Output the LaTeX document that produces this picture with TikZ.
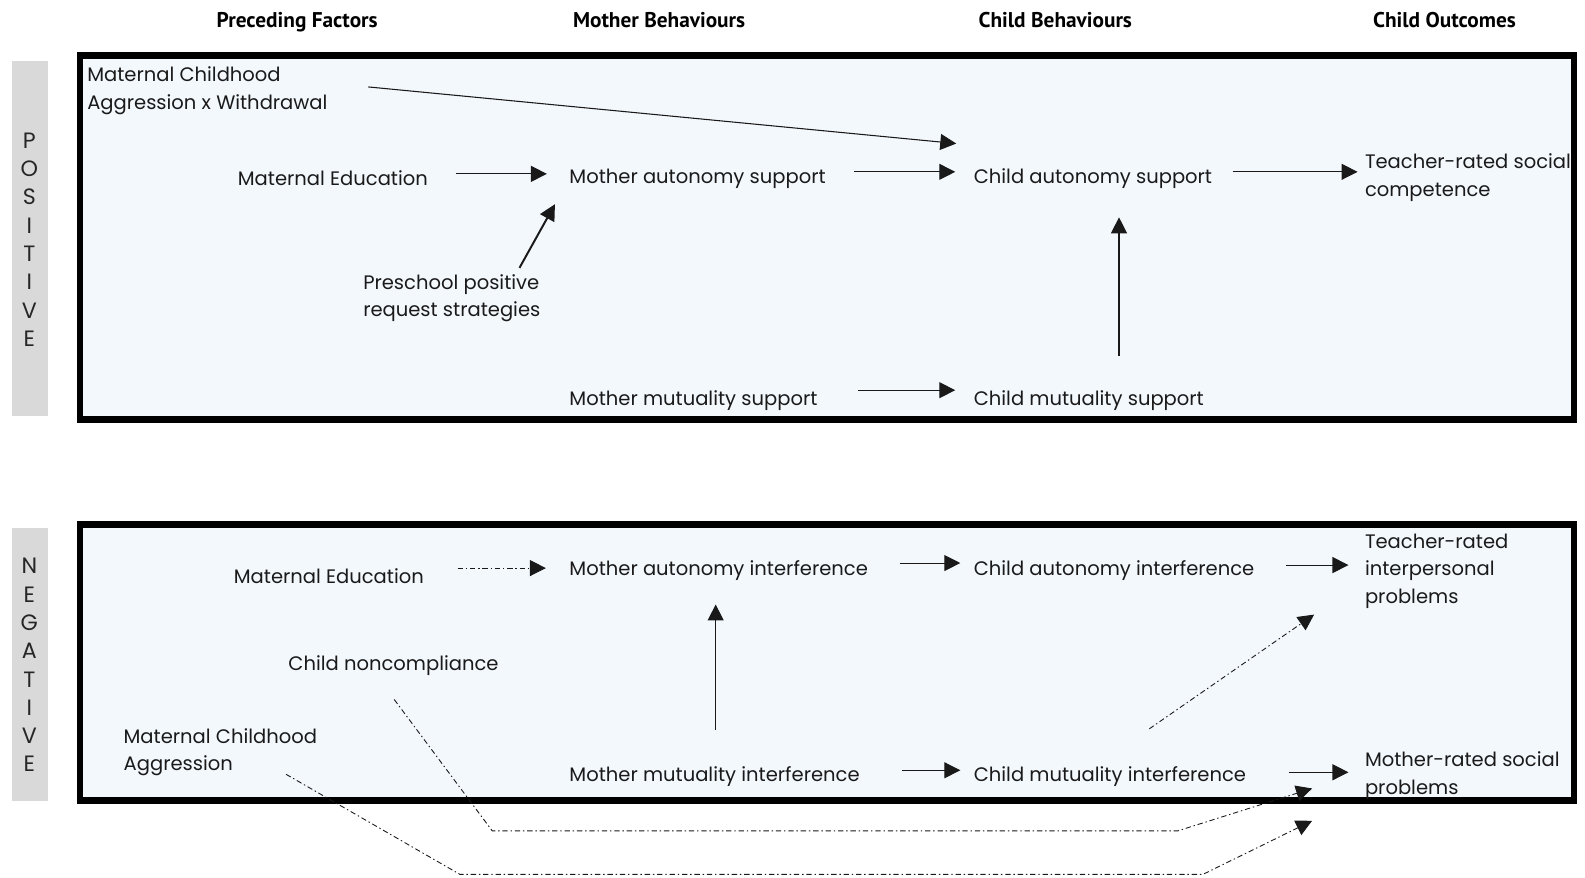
\documentclass[tikz,border=0pt]{standalone}
\usepackage{fontspec}
\setmainfont{Poppins}
\newfontfamily\headfont{PT Sans}
\usetikzlibrary{arrows.meta}
\usepackage{xcolor}
\definecolor{panelblue}{HTML}{F3F8FD}
\definecolor{sidegrey}{HTML}{D9D9D9}
\definecolor{inkgrey}{HTML}{1A1A1A}

\tikzset{
  lbl/.style={anchor=west, inner sep=0pt, align=left, text=inkgrey,
    font=\fontsize{11}{15.6}\selectfont},
  head/.style={anchor=base, inner sep=0pt, font=\headfont\bfseries\fontsize{12}{14}\selectfont},
  sidech/.style={inner sep=0pt, text=black!85, font=\fontsize{12.5}{14}\selectfont},
  arr/.style={-{Triangle[length=9pt,width=9pt]}, line width=0.6pt, black!90},
  dashdot/.style={arr, line width=0.5pt, dash pattern=on 3pt off 1.6pt on 0.8pt off 1.6pt},
  frame/.style={draw=black, line width=3.6pt, fill=panelblue},
}

\begin{document}
\begin{tikzpicture}[x=0.02cm, y=-0.02cm]
        \useasboundingbox (0,0) rectangle (1568,868);

        % Column headers
        \node[head] (hpre) at (294,27) {Preceding Factors};
        \node[head] (hmot) at (652,27) {Mother Behaviours};
        \node[head] (hchi) at (1044,27) {Child Behaviours};
        \node[head] (hout) at (1429,27) {Child Outcomes};

        % Panels
        \draw[frame] (79,55) rectangle (1557,415);
        \draw[frame] (79,519) rectangle (1557,792);

        % Side bars
        \fill[sidegrey] (12,60) rectangle (47,412);
        \fill[sidegrey] (12,522) rectangle (47,792);
        \foreach \l [count=\i] in {P,O,S,I,T,I,V,E}
            \node[sidech] (pos\i) at (29,{111+28*\i}) {\l};
        \foreach \l [count=\i] in {N,E,G,A,T,I,V,E}
            \node[sidech] (neg\i) at (29,{532+28*\i}) {\l};

        % Positive panel
        \node[lbl] (mcaw) at (86,90) {Maternal Childhood\\Aggression x Withdrawal};
        \node[lbl] (me) at (235,176) {Maternal Education};
        \node[lbl] (mas) at (563,177) {Mother autonomy support};
        \node[lbl] (cas) at (963,177) {Child autonomy support};
        \node[lbl] (trsc) at (1350,176) {Teacher-rated social\\competence};
        \node[lbl] (pprs) at (359,295) {Preschool positive\\request strategies};
        \node[lbl] (mms) at (563,396) {Mother mutuality support};
        \node[lbl] (cms) at (963,396) {Child mutuality support};

        \draw[arr] ([shift={(40,-4)}]mcaw.east) -- ([shift={(-17,-35)}]cas.west);
        \draw[arr] ([shift={(27,-4)}]me.east) -- ([shift={(-22,-5)}]mas.west);
        \draw[arr] ([shift={(28,-7)}]mas.east) -- ([shift={(-18,-7)}]cas.west);
        \draw[arr] ([shift={(20,-7)}]cas.east) -- ([shift={(-7,-6)}]trsc.west);
        \draw[arr, line width=1.1pt] ([shift={(-21,-6)}]pprs.north east) -- ([shift={(-14,25)}]mas.west);
        \draw[arr] ([shift={(144,-44)}]cms.west) -- ([shift={(144,38)}]cas.west);
        \draw[arr] ([shift={(40,-10)}]mms.east) -- ([shift={(-18,-10)}]cms.west);

        % Negative panel
        \node[lbl] (me2) at (231,570) {Maternal Education};
        \node[lbl] (mai) at (563,564) {Mother autonomy interference};
        \node[lbl] (cai) at (963,564) {Child autonomy interference};
        \node[lbl] (trip) at (1350,565) {Teacher-rated\\interpersonal\\problems};
        \node[lbl] (cn) at (285,658) {Child noncompliance};
        \node[lbl] (mca) at (122,744) {Maternal Childhood\\Aggression};
        \node[lbl] (mmi) at (563,768) {Mother mutuality interference};
        \node[lbl] (cmi) at (963,768) {Child mutuality interference};
        \node[lbl] (mrsp) at (1350,767.5) {Mother-rated social\\problems};

        \draw[dashdot] ([shift={(33,-8)}]me2.east) -- ([shift={(-23,-2)}]mai.west);
        \draw[arr] ([shift={(31,-7)}]mai.east) -- ([shift={(-13,-7)}]cai.west);
        \draw[arr] ([shift={(31,-5)}]cai.east) -- ([shift={(-16,-6)}]trip.west);
        \draw[arr] ([shift={(145,-46)}]mmi.west) -- ([shift={(145,34)}]mai.west);
        \draw[arr] ([shift={(42,-6)}]mmi.east) -- ([shift={(-13,-6)}]cmi.west);
        \draw[arr] ([shift={(42,-4)}]cmi.east) -- ([shift={(-16,-3.5)}]mrsp.west);
        \draw[dashdot] ([shift={(174,-47)}]cmi.west) -- ([shift={(-50,43)}]trip.west);

        % Paths running under the panel
        \coordinate (cnA) at (487,822);
        \coordinate (cnB) at (1165,822);
        \coordinate (mcaA) at (455,865);
        \coordinate (mcaB) at (1190,865);
        \draw[dashdot] ([shift={(105,34)}]cn.west) -- (cnA) -- (cnB) -- ([shift={(-52,12.5)}]mrsp.west);
        \draw[dashdot] ([shift={(161,22)}]mca.west) -- (mcaA) -- (mcaB) -- ([shift={(-52,44.5)}]mrsp.west);

    \end{tikzpicture}
\end{document}
